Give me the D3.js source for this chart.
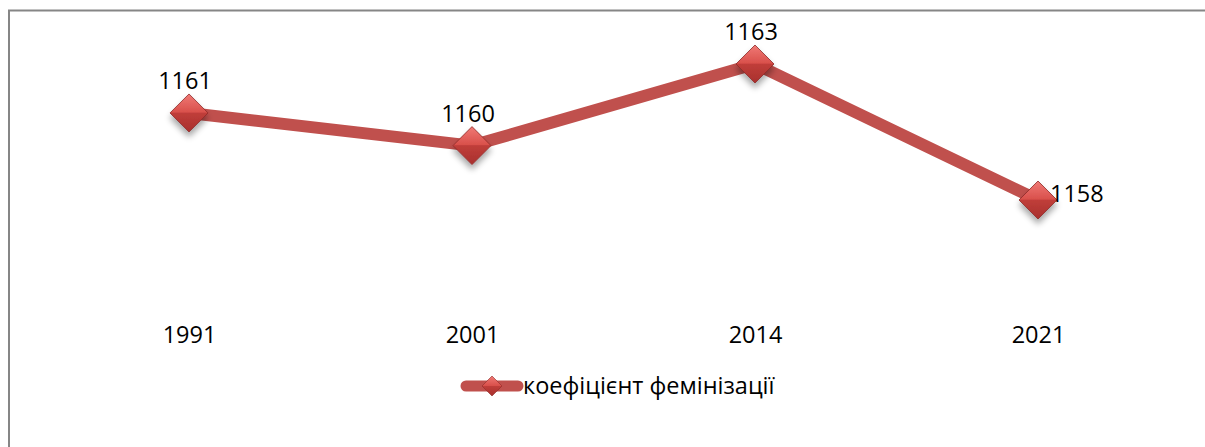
<!DOCTYPE html>
<html>
<head>
<meta charset="utf-8">
<script src="https://cdn.jsdelivr.net/npm/d3@7"></script>
<style>
  body { margin: 0; background: #fff; }
  svg { display: block; font-family: "Open Sans", sans-serif; }
</style>
</head>
<body>
<div id="chart"></div>
<script>
// values (labels show them rounded)
const years = ['1991', '2001', '2014', '2021'];
const values = [1161.2, 1160.0, 1163.0, 1158.0];
const seriesName = 'коефіцієнт фемінізації';

const width = 1205;
const height = 447;
const red = '#C0504D';
const fontSize = 23.5;

const svg = d3.select('#chart')
    .append('svg')
    .attr('width', width)
    .attr('height', height);

const defs = svg.append('defs');

// marker gradients: lighter top half, darker bottom half
const grad = defs.append('linearGradient')
    .attr('id', 'diam')
    .attr('x1', 0).attr('y1', 0).attr('x2', 0).attr('y2', 1);
grad.append('stop').attr('offset', '0%').attr('stop-color', '#F07A76');
grad.append('stop').attr('offset', '48%').attr('stop-color', '#D9504B');
grad.append('stop').attr('offset', '50%').attr('stop-color', '#C03E3A');
grad.append('stop').attr('offset', '100%').attr('stop-color', '#A8302D');

const shadow = defs.append('filter')
    .attr('id', 'shadow')
    .attr('x', '-50%').attr('y', '-50%').attr('width', '200%').attr('height', '200%');
shadow.append('feGaussianBlur').attr('in', 'SourceAlpha').attr('stdDeviation', 3);
shadow.append('feOffset').attr('dx', 0).attr('dy', 5).attr('result', 'blur');
shadow.append('feComponentTransfer').append('feFuncA').attr('type', 'linear').attr('slope', 0.35);
const merge = shadow.append('feMerge');
merge.append('feMergeNode');
merge.append('feMergeNode').attr('in', 'SourceGraphic');

// chart frame (only left and top visible in the picture)
svg.append('rect')
    .attr('x', 9).attr('y', 10.5)
    .attr('width', 1300).attr('height', 500)
    .attr('fill', 'none')
    .attr('stroke', '#868686')
    .attr('stroke-width', 2);

const xScale = d3.scalePoint()
    .domain(years)
    .range([189, 1038]);

const yScale = d3.scaleLinear()
    .domain([1158, 1163])
    .range([200, 64]);

function diamond(r) {
    return `M0,${-r}L${r},0L0,${r}L${-r},0Z`;
}

// category labels (axis line hidden)
const xAxis = svg.append('g')
    .attr('transform', 'translate(0, 326)')
    .call(d3.axisBottom(xScale).tickSize(0).tickPadding(0));
xAxis.select('.domain').remove();
xAxis.selectAll('text')
    .attr('font-size', fontSize)
    .attr('fill', '#000')
    .attr('font-family', '"Open Sans", sans-serif');

const pts = years.map((y, i) => ({ year: y, value: values[i] }));

const line = d3.line()
    .x((d) => xScale(d.year))
    .y((d) => yScale(d.value));

svg.append('path')
    .datum(pts)
    .attr('d', line)
    .attr('fill', 'none')
    .attr('stroke', red)
    .attr('stroke-width', 12)
    .attr('stroke-linejoin', 'round');

svg.append('g')
    .selectAll('path')
    .data(pts)
    .join('path')
    .attr('transform', (d) => `translate(${xScale(d.year)},${yScale(d.value)})`)
    .attr('d', diamond(19))
    .attr('fill', 'url(#diam)')
    .attr('stroke', '#8E2A27')
    .attr('stroke-width', 0.8)
    .attr('filter', 'url(#shadow)');

// data labels: above the point, except the last one which sits to the right
const last = pts.length - 1;
svg.append('g')
    .selectAll('text')
    .data(pts)
    .join('text')
    .attr('x', (d, i) => i === last ? xScale(d.year) + 12 : xScale(d.year) - 4)
    .attr('y', (d, i) => i === last ? yScale(d.value) - 4 : yScale(d.value) - 24)
    .attr('text-anchor', (d, i) => i === last ? 'start' : 'middle')
    .attr('dominant-baseline', (d, i) => i === last ? 'middle' : 'auto')
    .attr('font-size', fontSize)
    .attr('fill', '#000')
    .text((d) => d3.format('d')(Math.round(d.value)));

// legend
const legend = svg.append('g').attr('transform', 'translate(462, 386)');
legend.append('line')
    .attr('x1', 4).attr('x2', 56)
    .attr('stroke', red)
    .attr('stroke-width', 11)
    .attr('stroke-linecap', 'round');
legend.append('path')
    .attr('transform', 'translate(30, 0)')
    .attr('d', diamond(10))
    .attr('fill', 'url(#diam)')
    .attr('stroke', '#8E2A27')
    .attr('stroke-width', 0.6);
legend.append('text')
    .attr('x', 61)
    .attr('y', 8)
    .attr('font-size', fontSize)
    .attr('fill', '#000')
    .text(seriesName);
</script>
</body>
</html>
